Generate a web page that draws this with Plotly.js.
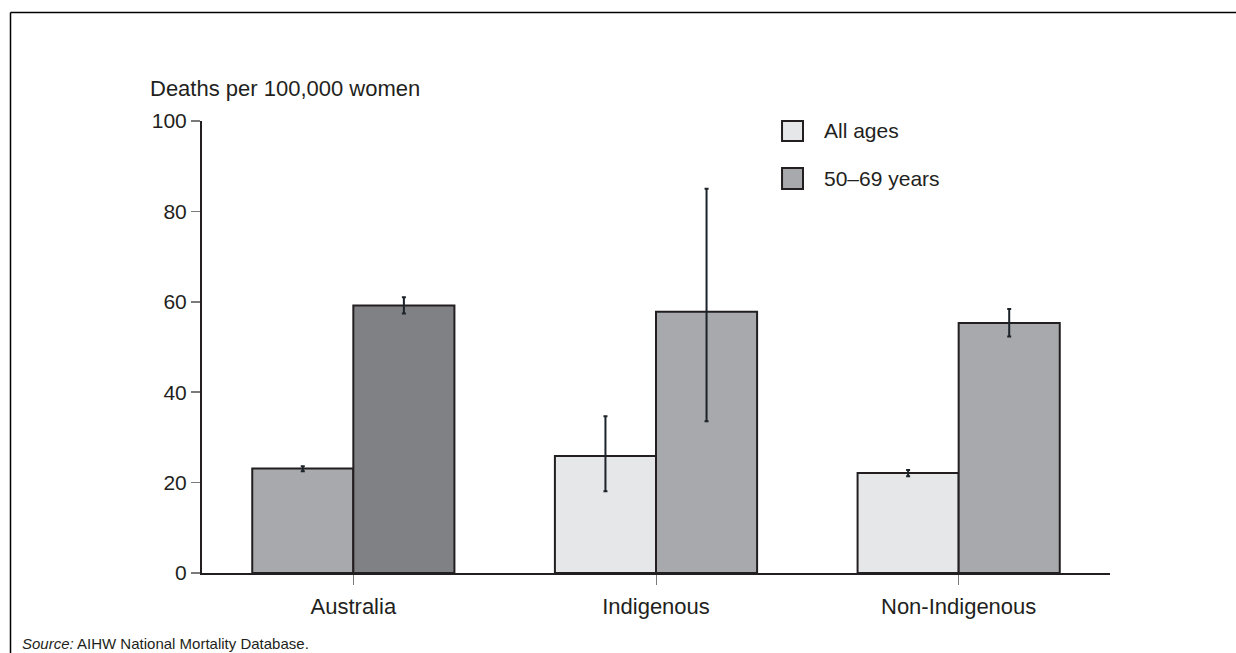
<!DOCTYPE html>
<html>
<head>
<meta charset="utf-8">
<script src="https://cdn.plot.ly/plotly-3.0.1.min.js"></script>
<style>
  html, body { margin: 0; padding: 0; background: #ffffff; }
  #chart { width: 1236px; height: 653px; }
</style>
</head>
<body>
<div id="chart"></div>
<script>
// ---- Data ----
const categories = ['Australia', 'Indigenous', 'Non-Indigenous'];
const seriesNames = ['All ages', '50–69 years'];

const allAgesValues = [23.1, 25.9, 22.1];
const allAgesErrPlus = [0.5, 8.8, 0.7];
const allAgesErrMinus = [0.6, 7.8, 0.7];

const ages5069Values = [59.2, 57.8, 55.3];
const ages5069ErrPlus = [1.8, 27.2, 3.1];
const ages5069ErrMinus = [1.8, 24.2, 3.0];

const yTickValues = [0, 20, 40, 60, 80, 100];

const yLabel = 'Deaths per 100,000 women';
const sourceText = '<i>Source:</i> AIHW National Mortality Database.';

// ---- Styles ----
const FONT = '"Liberation Sans", Arial, Helvetica, sans-serif';
const INK = '#231f20';
const LIGHT = '#e6e7e8';
const MID = '#a7a9ac';
const DARK = '#808184';
const allAgesColors = [MID, LIGHT, LIGHT];
const ages5069Colors = [DARK, MID, MID];

const errStyle = { type: 'data', symmetric: false, color: '#1c2329', thickness: 2, width: 2 };

const traces = [
  {
    type: 'bar', name: seriesNames[0], x: categories, y: allAgesValues,
    marker: { color: allAgesColors, line: { color: INK, width: 2 } },
    error_y: Object.assign({ array: allAgesErrPlus, arrayminus: allAgesErrMinus }, errStyle),
    showlegend: false, hoverinfo: 'x+y+name'
  },
  {
    type: 'bar', name: seriesNames[1], x: categories, y: ages5069Values,
    marker: { color: ages5069Colors, line: { color: INK, width: 2 } },
    error_y: Object.assign({ array: ages5069ErrPlus, arrayminus: ages5069ErrMinus }, errStyle),
    showlegend: false, hoverinfo: 'x+y+name'
  }
];

// legend swatches and labels (drawn manually to match the large squares)
const legendColors = [LIGHT, MID];
const legendY = [[0.9558, 1.0], [0.8496, 0.896]];
const legendTextY = [0.978, 0.8717];

const shapes = [];
const annotations = [];
seriesNames.forEach((n, i) => {
  shapes.push({
    type: 'rect', xref: 'paper', yref: 'paper',
    x0: 0.6388, x1: 0.6619, y0: legendY[i][0], y1: legendY[i][1],
    fillcolor: legendColors[i], line: { color: INK, width: 2 }
  });
  annotations.push({
    xref: 'paper', yref: 'paper', x: 0.6828, y: legendTextY[i],
    xanchor: 'left', yanchor: 'middle', showarrow: false, text: n,
    font: { family: FONT, size: 21, color: INK }
  });
});

// frame lines (left and top)
shapes.push({ type: 'line', xref: 'paper', yref: 'paper', x0: -0.2109, x1: -0.2109, y0: -0.25, y1: 1.2400, line: { color: '#000000', width: 1.5 } });
shapes.push({ type: 'line', xref: 'paper', yref: 'paper', x0: -0.2109, x1: 1.2, y0: 1.2400, y1: 1.2400, line: { color: '#000000', width: 1.5 } });

annotations.push({
  xref: 'paper', yref: 'paper', x: -0.0595, y: 1.073, xanchor: 'left', yanchor: 'middle',
  showarrow: false, text: yLabel, font: { family: FONT, size: 22, color: INK }
});
annotations.push({
  xref: 'paper', yref: 'paper', x: -0.2004, y: -0.1549, xanchor: 'left', yanchor: 'middle',
  showarrow: false, text: sourceText, font: { family: FONT, size: 15, color: INK }
});

const layout = {
  width: 1236, height: 653,
  margin: { l: 202, r: 126, t: 121, b: 80, pad: 0 },
  paper_bgcolor: '#ffffff', plot_bgcolor: '#ffffff',
  font: { family: FONT, color: INK, size: 20 },
  barmode: 'group', bargap: 0.332, bargroupgap: 0,
  showlegend: false,
  xaxis: {
    type: 'category', range: [-0.5, 2.5], fixedrange: true,
    showline: true, linecolor: INK, linewidth: 2,
    ticks: 'outside', ticklen: 10, tickwidth: 1, tickcolor: '#7a7a7a',
    ticklabelstandoff: 3,
    tickfont: { family: FONT, size: 22, color: INK },
    showgrid: false, zeroline: false
  },
  yaxis: {
    range: [0, 100], tickvals: yTickValues, fixedrange: true,
    showline: true, linecolor: INK, linewidth: 2,
    ticks: 'outside', ticklen: 9, tickwidth: 1.5, tickcolor: '#7a7a7a',
    tickfont: { family: FONT, size: 21, color: INK },
    showgrid: false, zeroline: false
  },
  shapes: shapes,
  annotations: annotations
};

Plotly.newPlot('chart', traces, layout, { displayModeBar: false, staticPlot: true });
</script>
</body>
</html>
